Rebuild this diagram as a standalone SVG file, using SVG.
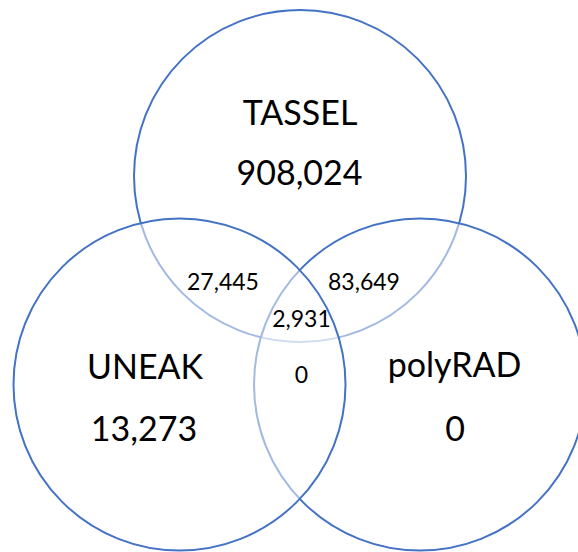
<svg xmlns="http://www.w3.org/2000/svg" width="578" height="552" viewBox="0 0 578 552">
  <style>
    .set { fill: #ffffff; fill-opacity: 0.5; stroke: #4472C4; stroke-width: 2; }
    .big { font-family: Lato, "Open Sans", "Noto Sans", sans-serif; font-size: 34px; fill: #000000; text-anchor: middle; }
    .small { font-family: Lato, "Open Sans", "Noto Sans", sans-serif; font-size: 23px; fill: #000000; text-anchor: middle; }
  </style>
  <rect width="578" height="552" fill="#ffffff"/>
  <g id="tassel">
    <circle class="set" cx="300" cy="176" r="166"/>
    <text class="big" x="300" y="125">TASSEL</text>
    <text class="big" x="299.5" y="184.5">908,024</text>
  </g>
  <g id="polyrad">
    <circle class="set" cx="420" cy="384.5" r="166"/>
    <text class="big" x="454.5" y="377">polyRAD</text>
    <text class="big" x="455" y="441">0</text>
  </g>
  <g id="uneak">
    <circle class="set" cx="179.5" cy="384.5" r="166"/>
    <text class="big" x="145" y="379">UNEAK</text>
    <text class="big" x="144" y="441">13,273</text>
  </g>
  <g id="overlaps">
    <text class="small" x="223" y="290">27,445</text>
    <text class="small" x="364" y="290">83,649</text>
    <text class="small" x="301.5" y="327">2,931</text>
    <text class="small" x="301.5" y="383">0</text>
  </g>
</svg>
